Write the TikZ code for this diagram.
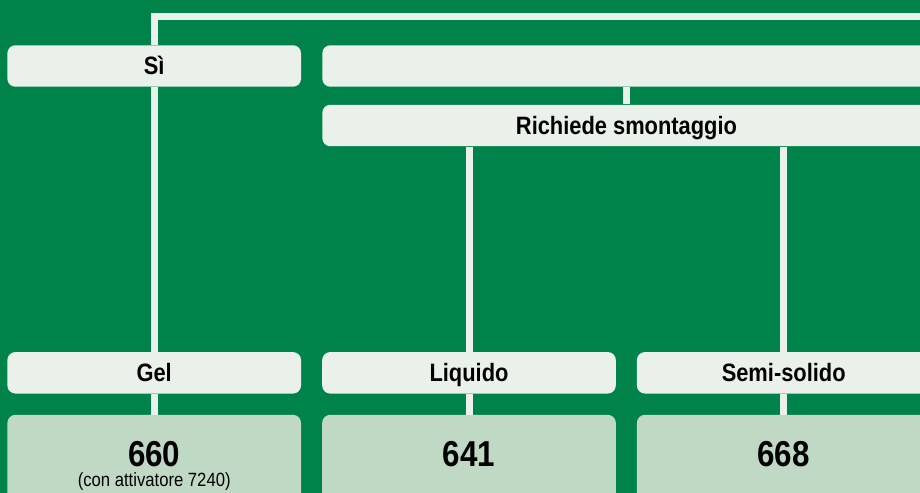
\documentclass[tikz,border=0pt]{standalone}
\usepackage{fontspec}
\setmainfont{Liberation Sans}[FakeStretch=0.87]
\definecolor{verde}{HTML}{00834A}
\definecolor{chiaro}{HTML}{E9F1EA}
\definecolor{medio}{HTML}{C0D9C4}
\begin{document}
\begin{tikzpicture}[x=0.02cm, y=-0.02cm,
	scelta/.style={fill=chiaro, rounded corners=0.16cm, minimum width=5.874cm, minimum height=0.83cm, inner sep=0pt, text height=10.2pt, text depth=0pt, font=\bfseries\fontsize{14.3}{16}\selectfont},
	largo/.style={scelta, minimum width=12.17cm},
	prodotto/.style={fill=medio, rounded corners=0.16cm, minimum width=5.874cm, minimum height=2cm, inner sep=0pt, anchor=north},
	cifra/.style={anchor=base, inner sep=0pt, font=\bfseries\fontsize{20.5}{22}\selectfont},
	nota/.style={anchor=base, inner sep=0pt, font=\fontsize{10.9}{12}\selectfont},
	linea/.style={draw=chiaro, line width=0.14cm}]
					\useasboundingbox (0,0) rectangle (920,493);
					\clip (0,0) rectangle (920,493);
					\fill[verde] (0,0) rectangle (920,493);
					\node[scelta] (si) at (154.2,66) {Sì};
					\node[largo] (no) at (626.5,66) {};
					\node[largo] (smont) at (626.5,125.5) {Richiede smontaggio};
					\node[scelta] (gel) at (154.2,372.8) {Gel};
					\node[scelta] (liq) at (469,372.8) {Liquido};
					\node[scelta] (semi) at (783.7,372.8) {Semi-solido};
					\node[prodotto] (p660) at (154.2,414.5) {};
					\node[prodotto] (p641) at (469,414.5) {};
					\node[prodotto] (p668) at (783.7,414.5) {};
					\node[cifra] (c660) at ([yshift=-1.04cm]p660.north) {660};
					\node[nota] (n660) at ([yshift=-1.45cm]p660.north) {(con attivatore 7240)};
					\node[cifra] (c641) at ([yshift=-1.04cm]p641.north) {641};
					\node[cifra] (c668) at ([yshift=-1.04cm]p668.north) {668};
					\coordinate (angolo) at (154.2,16.3);
					\coordinate (fine) at (930,16.3);
					% Linee di collegamento tra le caselle
					\draw[linea] (si.north) -- (angolo) -- (fine);
					\draw[linea] (si.south) -- (gel.north);
					\draw[linea] (gel.south) -- (p660.north);
					\draw[linea] (no.south) -- (smont.north);
					\draw[linea] (smont.south -| liq.north) -- (liq.north);
					\draw[linea] (liq.south) -- (p641.north);
					\draw[linea] (smont.south -| semi.north) -- (semi.north);
					\draw[linea] (semi.south) -- (p668.north);
		\end{tikzpicture}
\end{document}
